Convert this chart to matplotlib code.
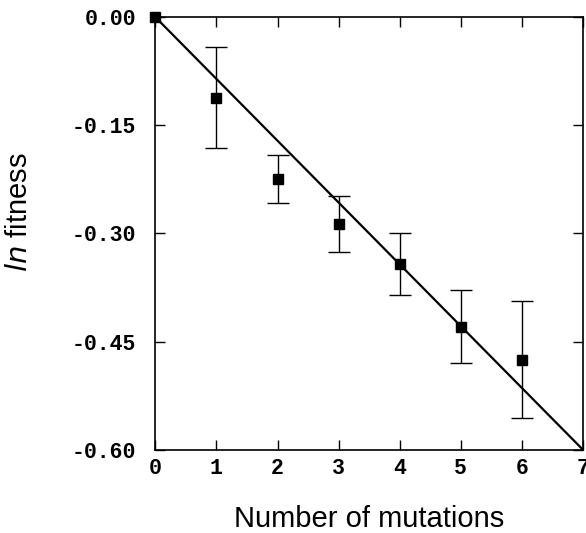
import matplotlib
matplotlib.use("Agg")
import matplotlib.pyplot as plt

# data
mutations = [0, 1, 2, 3, 4, 5, 6]
ln_fitness = [0.0, -0.112, -0.2245, -0.287, -0.343, -0.429, -0.475]
err = [0.0, 0.070, 0.033, 0.039, 0.043, 0.050, 0.081]
fit_x = [0, 7]
fit_y = [0.0, -0.60]

xticks = [0, 1, 2, 3, 4, 5, 6, 7]
yticks = [0.00, -0.15, -0.30, -0.45, -0.60]


def main():
    fig = plt.figure(figsize=(5.86, 5.33), dpi=100)
    ax = fig.add_axes([0.265, 0.156, 0.73, 0.812])

    ax.plot(fit_x, fit_y, color='black', lw=1.6, zorder=2)
    ax.errorbar(mutations[1:], ln_fitness[1:], yerr=err[1:], fmt='none',
                ecolor='black', elinewidth=1.0, capsize=8, capthick=1.0,
                zorder=3)
    ax.plot(mutations, ln_fitness, 's', color='black', ms=7.5, zorder=4,
            clip_on=False)

    ax.set_xlim(0, 7)
    ax.set_ylim(-0.60, 0.0)
    ax.set_xticks(xticks)
    ax.set_yticks(yticks)
    ax.set_yticklabels([f'{v:.2f}' for v in yticks])

    ax.tick_params(direction='in', length=7, width=1.0, top=True, right=True,
                   labeltop=False, labelright=False)
    ax.tick_params(axis='y', pad=14)
    ax.tick_params(axis='x', pad=6)
    for lab in ax.get_xticklabels() + ax.get_yticklabels():
        lab.set_family('Liberation Mono')
        lab.set_fontweight('bold')
        lab.set_fontsize(15.5)
    for sp in ax.spines.values():
        sp.set_linewidth(1.2)

    ax.set_xlabel('Number of mutations', family='Liberation Sans', fontsize=21)
    ax.set_ylabel(r'$\mathit{ln}$ fitness', family='Liberation Sans',
                  fontsize=21)
    ax.xaxis.set_label_coords(0.5, -0.127)
    ax.yaxis.set_label_coords(-0.286, 0.55)

    fig.savefig('out.png', dpi=100)


if __name__ == "__main__":
    main()
